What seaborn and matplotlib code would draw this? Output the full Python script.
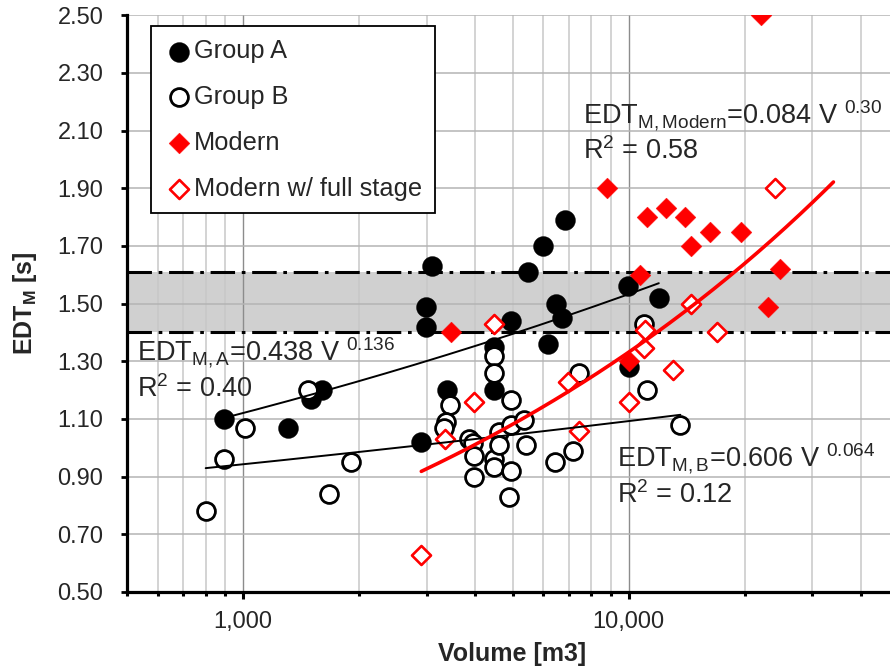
import numpy as np
import pandas as pd
import matplotlib
matplotlib.use("Agg")
import matplotlib.pyplot as plt
from matplotlib.ticker import FixedLocator, FuncFormatter, NullFormatter
import seaborn as sns

# Measured early decay time (EDT_M, s) versus hall volume (m3)
group_a_volume = [890, 1310, 1500, 1600, 2900, 2980, 2980, 3090, 3390, 4490, 4490,
                  4960, 5480, 5990, 6860, 6490, 6730, 6170, 9960, 11980, 10000]
group_a_edt = [1.10, 1.07, 1.17, 1.20, 1.02, 1.49, 1.42, 1.63, 1.20, 1.35, 1.20,
               1.44, 1.61, 1.70, 1.79, 1.50, 1.45, 1.36, 1.56, 1.52, 1.28]

group_b_volume = [800, 890, 1010, 1475, 1670, 1910, 3450, 3360, 3330, 3860, 3960,
                  3980, 3980, 4470, 4470, 4490, 4490, 4620, 4620, 4960, 4960, 4960,
                  4910, 5370, 5420, 6430, 7160, 7460, 10940, 11160, 13630]
group_b_edt = [0.78, 0.96, 1.07, 1.20, 0.84, 0.95, 1.15, 1.09, 1.07, 1.03, 1.015,
               0.97, 0.90, 1.32, 1.26, 0.96, 0.935, 1.055, 1.01, 1.165, 1.08, 0.92,
               0.83, 1.095, 1.01, 0.95, 0.99, 1.26, 1.43, 1.20, 1.08]

modern_volume = [3460, 8780, 10000, 10730, 11190, 12480, 14000, 14490, 16300,
                 19540, 22000, 23010, 24770]
modern_edt = [1.40, 1.90, 1.30, 1.60, 1.80, 1.83, 1.80, 1.70, 1.75, 1.75, 2.50,
              1.49, 1.62]

stage_volume = [2900, 3340, 3980, 4470, 6960, 7460, 10000, 10940, 11000, 13030,
                14490, 16960, 24040]
stage_edt = [0.63, 1.03, 1.16, 1.43, 1.23, 1.06, 1.16, 1.345, 1.41, 1.27, 1.50,
             1.40, 1.90]

group_labels = ["Group A", "Group B", "Modern", "Modern w/ full stage"]

# Power-law fits EDT = a * V^b
fit_a = (0.438, 0.136)
fit_b = (0.606, 0.064)
fit_modern = (0.084, 0.30)
modern_fit_end = 34000

# Preferred range band
band_low, band_high = 1.40, 1.61

y_ticks = [0.50, 0.70, 0.90, 1.10, 1.30, 1.50, 1.70, 1.90, 2.10, 2.30, 2.50]
x_major = [1000, 10000]

sns.set_style("white")
plt.rcParams["font.family"] = ["Liberation Sans", "DejaVu Sans"]
plt.rcParams["mathtext.fontset"] = "custom"
plt.rcParams["mathtext.rm"] = "Liberation Sans"
plt.rcParams["mathtext.it"] = "Liberation Sans:italic"
plt.rcParams["mathtext.bf"] = "Liberation Sans:bold"

df = pd.concat([
    pd.DataFrame({"volume": group_a_volume, "edt": group_a_edt, "group": group_labels[0]}),
    pd.DataFrame({"volume": group_b_volume, "edt": group_b_edt, "group": group_labels[1]}),
    pd.DataFrame({"volume": modern_volume, "edt": modern_edt, "group": group_labels[2]}),
    pd.DataFrame({"volume": stage_volume, "edt": stage_edt, "group": group_labels[3]}),
], ignore_index=True)

W, H = 890, 670
fig = plt.figure(figsize=(W / 100, H / 100), dpi=100)


def fx(px):
    return px / W


def fy(py):
    return 1 - py / H


ax = fig.add_axes([fx(127), fy(592), fx(898) - fx(127), fy(15.3) - fy(592)])
ax.set_xscale("log")
ax.set_xlim(500, 50000)
ax.set_ylim(0.5, 2.5)

# background band and its dash-dot limits
ax.axhspan(band_low, band_high, color="#d0d0d0", zorder=0.2, lw=0)
for lvl in (band_low, band_high):
    ax.axhline(lvl, color="black", lw=2.2, ls=(0, (8, 2.2, 1.2, 2.2)), zorder=1.5)

# grid
ax.set_axisbelow(True)
ax.yaxis.set_major_locator(FixedLocator(y_ticks))
ax.yaxis.set_major_formatter(FuncFormatter(lambda v, p: f"{v:.2f}"))
ax.xaxis.set_major_locator(FixedLocator(x_major))
minor_x = [m * d for d in (100, 1000, 10000) for m in range(2, 10) if 500 <= m * d <= 50000]
ax.xaxis.set_minor_locator(FixedLocator(minor_x))
ax.xaxis.set_major_formatter(FuncFormatter(lambda v, p: f"{int(v):,}"))
ax.xaxis.set_minor_formatter(NullFormatter())
ax.grid(axis="y", which="major", color="#b4b4b4", lw=1.1)
ax.grid(axis="x", which="major", color="#8c8c8c", lw=1.0)
ax.grid(axis="x", which="minor", color="#c8c8c8", lw=1.1)

styles = {
    group_labels[0]: dict(marker="o", s=205, color="black", edgecolor="black", linewidth=0.3),
    group_labels[1]: dict(marker="o", s=165, color="white", edgecolor="black", linewidth=2.0),
    group_labels[2]: dict(marker="D", s=112, color="#ff0000", edgecolor="#ff0000", linewidth=0.3),
    group_labels[3]: dict(marker="D", s=94, color="white", edgecolor="#ff0000", linewidth=1.9),
}
for g in group_labels:
    sub = df[df["group"] == g]
    sns.scatterplot(data=sub, x="volume", y="edt", ax=ax, label=g, zorder=3, **styles[g])


def power_fit(coef, v0, v1):
    v = np.logspace(np.log10(v0), np.log10(v1), 200)
    return v, coef[0] * v ** coef[1]


va, ea = power_fit(fit_a, min(group_a_volume), max(group_a_volume))
vb, eb = power_fit(fit_b, min(group_b_volume), max(group_b_volume))
vm, em = power_fit(fit_modern, min(stage_volume), modern_fit_end)
sns.lineplot(x=va, y=ea, ax=ax, color="black", lw=1.4, sort=False, estimator=None, zorder=4)
sns.lineplot(x=vb, y=eb, ax=ax, color="black", lw=1.4, sort=False, estimator=None, zorder=4)
sns.lineplot(x=vm, y=em, ax=ax, color="#ff0000", lw=2.6, sort=False, estimator=None, zorder=4)

# axes styling
for side in ("top", "right"):
    ax.spines[side].set_visible(False)
for side in ("left", "bottom"):
    ax.spines[side].set_color("black")
    ax.spines[side].set_linewidth(2.3)
ax.tick_params(axis="y", which="major", direction="out", length=4, width=2, pad=13,
               labelsize=17, left=True, color="black")
ax.tick_params(axis="x", which="major", direction="out", length=5, width=2.2, pad=9,
               labelsize=17, bottom=True, color="black")
ax.tick_params(axis="x", which="minor", direction="out", length=3, width=2.2,
               bottom=True, color="black")

ax.set_xlabel("Volume [m3]", fontsize=18, fontweight="bold", labelpad=6)
ax.set_ylabel(r"EDT$_{\mathbf{M}}$ [s]", fontsize=18, fontweight="bold", labelpad=13)

leg = ax.legend(loc="upper left", bbox_to_anchor=(fx(150.7), fy(26.5)),
                bbox_transform=fig.transFigure, borderaxespad=0, fontsize=18.3,
                frameon=True, fancybox=False, edgecolor="black", framealpha=1,
                labelspacing=0.86, handlelength=1.2, handletextpad=0.0,
                borderpad=0.5)
leg.get_frame().set_linewidth(1.3)

# fit equations
eq_font = 19.5
fig.text(fx(583), fy(124), r"EDT$_{\mathregular{M,Modern}}$=0.084 V $^{\mathregular{0.30}}$",
         fontsize=eq_font, va="baseline", ha="left")
fig.text(fx(583), fy(159), r"R$^{\mathregular{2}}$ = 0.58", fontsize=eq_font,
         va="baseline", ha="left")
fig.text(fx(136.7), fy(360.7), r"EDT$_{\mathregular{M,A}}$=0.438 V $^{\mathregular{0.136}}$",
         fontsize=eq_font, va="baseline", ha="left")
fig.text(fx(136.7), fy(396.7), r"R$^{\mathregular{2}}$ = 0.40", fontsize=eq_font,
         va="baseline", ha="left")
fig.text(fx(616.7), fy(466.7), r"EDT$_{\mathregular{M,B}}$=0.606 V $^{\mathregular{0.064}}$",
         fontsize=eq_font, va="baseline", ha="left")
fig.text(fx(616.7), fy(502.7), r"R$^{\mathregular{2}}$ = 0.12", fontsize=eq_font,
         va="baseline", ha="left")

fig.savefig("out.png", dpi=100)
